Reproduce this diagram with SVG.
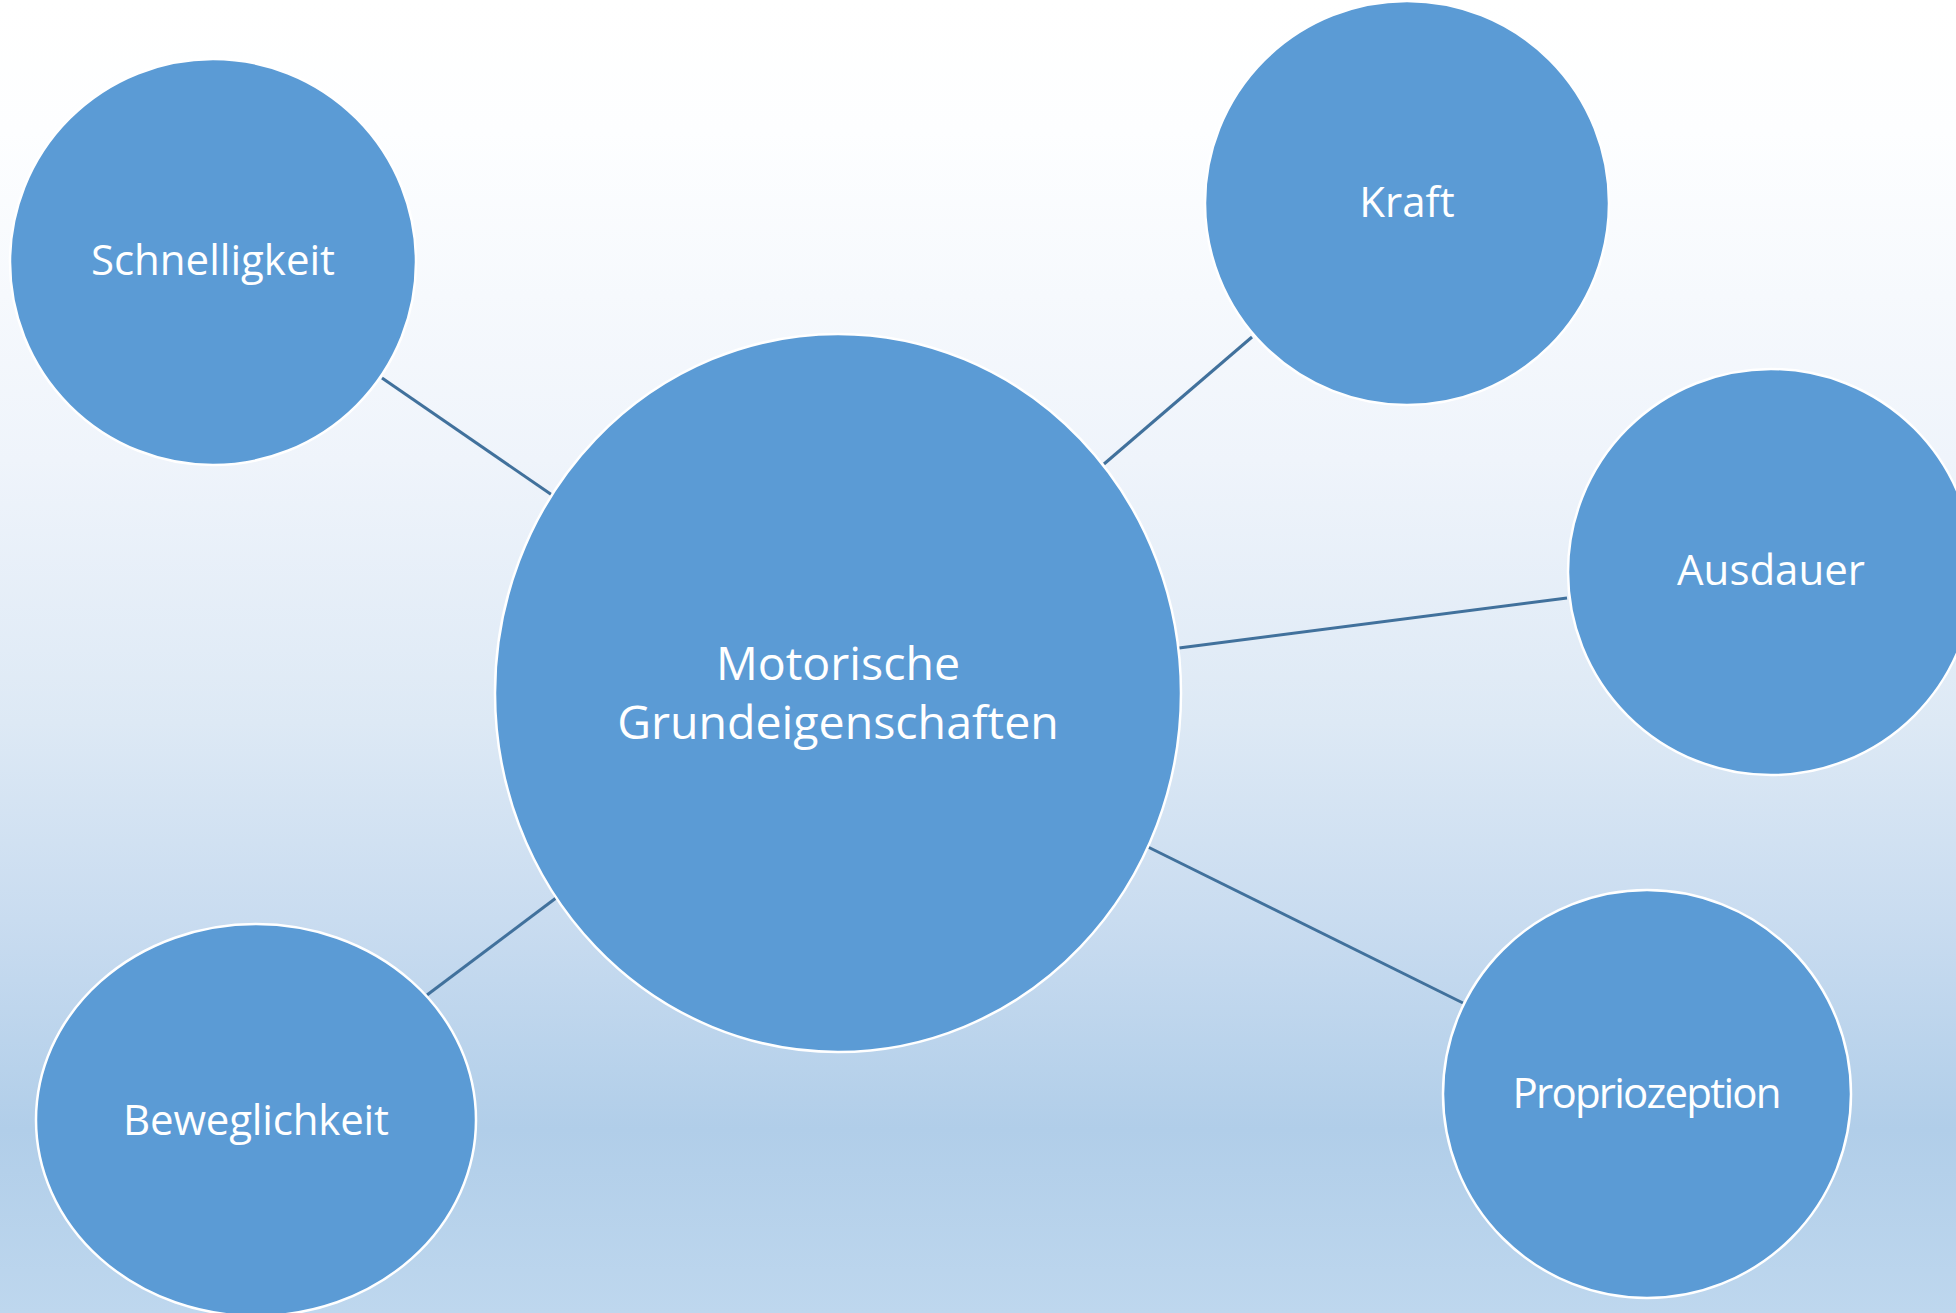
<svg xmlns="http://www.w3.org/2000/svg" width="1956" height="1313" viewBox="0 0 1956 1313">
<defs>
<linearGradient id="bg" x1="0" y1="0" x2="0" y2="1">
<stop offset="0" stop-color="#FFFFFF"/>
<stop offset="0.1" stop-color="#FDFEFF"/>
<stop offset="0.35" stop-color="#EFF4FB"/>
<stop offset="0.55" stop-color="#DDE9F5"/>
<stop offset="0.7" stop-color="#C9DCF0"/>
<stop offset="0.86" stop-color="#B1CEE9"/>
<stop offset="1" stop-color="#BED7EE"/>
</linearGradient>
<style>
.node{fill:#5B9BD5;stroke:#FFFFFF;stroke-width:2.5}
.lbl{fill:#FFFFFF;font-family:"Open Sans","Noto Sans","Liberation Sans",sans-serif;font-size:42px;text-anchor:middle}
.main{font-size:46.5px}
.conn{stroke:#41719C;stroke-width:3;fill:none}
</style>
</defs>
<rect x="0" y="0" width="1956" height="1313" fill="url(#bg)"/>
<g id="connectors">
<line class="conn" x1="382" y1="378" x2="552" y2="495"/>
<line class="conn" x1="1252" y1="337" x2="1104" y2="464"/>
<line class="conn" x1="1567" y1="598" x2="1179" y2="648"/>
<line class="conn" x1="1148" y1="847" x2="1463" y2="1003"/>
<line class="conn" x1="556" y1="898" x2="427" y2="995"/>
</g>
<g id="node-center">
<ellipse class="node" cx="838" cy="693" rx="343" ry="359"/>
<text class="lbl main" x="838" y="680">Motorische</text>
<text class="lbl main" x="838" y="739">Grundeigenschaften</text>
</g>
<g id="node-schnelligkeit">
<circle class="node" cx="213" cy="262" r="203"/>
<text class="lbl" x="213" y="275">Schnelligkeit</text>
</g>
<g id="node-kraft">
<circle class="node" cx="1407" cy="203" r="202"/>
<text class="lbl" x="1407" y="217">Kraft</text>
</g>
<g id="node-ausdauer">
<circle class="node" cx="1771" cy="572" r="203"/>
<text class="lbl" x="1771" y="585">Ausdauer</text>
</g>
<g id="node-propriozeption">
<circle class="node" cx="1647" cy="1094" r="204"/>
<text class="lbl" x="1647" y="1108" textLength="269">Propriozeption</text>
</g>
<g id="node-beweglichkeit">
<ellipse class="node" cx="256" cy="1120" rx="220" ry="196"/>
<text class="lbl" x="256" y="1135" textLength="266">Beweglichkeit</text>
</g>
</svg>
